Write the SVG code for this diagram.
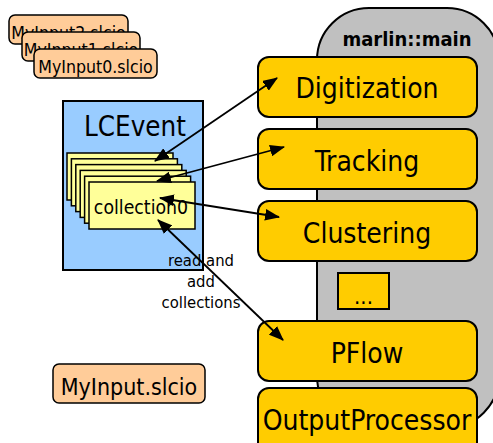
<svg xmlns="http://www.w3.org/2000/svg" width="493" height="443" viewBox="0 0 493 443">
  <style>
    text { font-family: "DejaVu Sans Condensed", "DejaVu Sans", Verdana, sans-serif; fill: #000; }
    .file { fill: #FFCC99; stroke: #000; stroke-width: 1.5; }
    .file-label { font-size: 17.6px; text-anchor: middle; }
    .proc { fill: #FFCC00; stroke: #000; stroke-width: 2; }
    .proc-label { font-size: 28px; text-anchor: middle; }
    .coll { fill: #FFFF99; stroke: #000; stroke-width: 1.5; }
    .link { stroke: #000; stroke-width: 1.8; fill: none; marker-start: url(#head); marker-end: url(#head); }
  </style>
  <defs>
    <marker id="head" viewBox="0 0 14 11" refX="13" refY="5.5" markerWidth="15" markerHeight="12" markerUnits="userSpaceOnUse" orient="auto-start-reverse">
      <path d="M0,0 L14,5.5 L0,11 Z" fill="#000"/>
    </marker>
  </defs>

  <!-- marlin::main container -->
  <g id="marlin-main">
    <rect x="317" y="8" width="182" height="420" rx="52" ry="52" fill="#C0C0C0" stroke="#000" stroke-width="2"/>
    <text x="407" y="46" font-size="20px" font-weight="bold" text-anchor="middle">marlin::main</text>
  </g>

  <!-- input files (each one partly hides the one behind it) -->
  <g id="myinput2">
    <rect class="file" x="9" y="15" width="119" height="29" rx="6"/>
    <text class="file-label" x="68.5" y="39">MyInput2.slcio</text>
  </g>
  <g id="myinput1">
    <rect class="file" x="22" y="32" width="118" height="29" rx="6"/>
    <text class="file-label" x="81" y="56">MyInput1.slcio</text>
  </g>
  <g id="myinput0">
    <rect class="file" x="34" y="49" width="123" height="29" rx="6"/>
    <text class="file-label" x="95.5" y="73">MyInput0.slcio</text>
  </g>

  <!-- event with its collections -->
  <g id="lcevent">
    <rect x="63" y="101" width="140" height="169" fill="#99CCFF" stroke="#000" stroke-width="2"/>
    <text x="135" y="136" font-size="27.5px" text-anchor="middle">LCEvent</text>
    <rect class="coll" x="67" y="153" width="106" height="47"/>
    <rect class="coll" x="71.4" y="158.8" width="106" height="47"/>
    <rect class="coll" x="75.8" y="164.6" width="106" height="47"/>
    <rect class="coll" x="80.2" y="170.4" width="106" height="47"/>
    <rect class="coll" x="84.6" y="176.2" width="106" height="47"/>
    <rect class="coll" x="89" y="182" width="106" height="47"/>
    <text x="141" y="214" font-size="19.3px" text-anchor="middle">collection0</text>
  </g>

  <!-- processors -->
  <g id="digitization">
    <rect class="proc" x="258" y="57" width="219" height="60" rx="11"/>
    <text class="proc-label" x="367" y="98">Digitization</text>
  </g>
  <g id="tracking">
    <rect class="proc" x="258" y="129" width="219" height="60" rx="11"/>
    <text class="proc-label" x="367" y="171">Tracking</text>
  </g>
  <g id="clustering">
    <rect class="proc" x="258" y="201" width="219" height="60" rx="11"/>
    <text class="proc-label" x="367" y="243">Clustering</text>
  </g>
  <g id="more">
    <rect x="338" y="273" width="51" height="36" fill="#FFCC00" stroke="#000" stroke-width="2"/>
    <text x="363.5" y="304" font-size="22px" text-anchor="middle">...</text>
  </g>
  <g id="pflow">
    <rect class="proc" x="258" y="321" width="219" height="60" rx="11"/>
    <text class="proc-label" x="367" y="363">PFlow</text>
  </g>
  <g id="outputprocessor">
    <rect class="proc" x="258" y="388" width="219" height="70" rx="11"/>
    <text class="proc-label" x="367" y="430">OutputProcessor</text>
  </g>

  <!-- output file -->
  <g id="myinput">
    <rect class="file" x="53" y="364" width="152" height="39" rx="6"/>
    <text x="129" y="395" font-size="23px" text-anchor="middle">MyInput.slcio</text>
  </g>

  <!-- read / write links between collections and processors -->
  <g id="connectors">
    <line class="link" x1="155" y1="161" x2="277" y2="78"/>
    <line class="link" x1="157" y1="181" x2="284" y2="147"/>
    <line class="link" x1="160" y1="198" x2="279" y2="217"/>
    <line class="link" x1="158" y1="220" x2="283" y2="340"/>
    <g id="link-label" font-size="16.5px" text-anchor="middle">
      <text x="201" y="266">read and</text>
      <text x="201" y="287">add</text>
      <text x="201" y="308">collections</text>
    </g>
  </g>
</svg>
